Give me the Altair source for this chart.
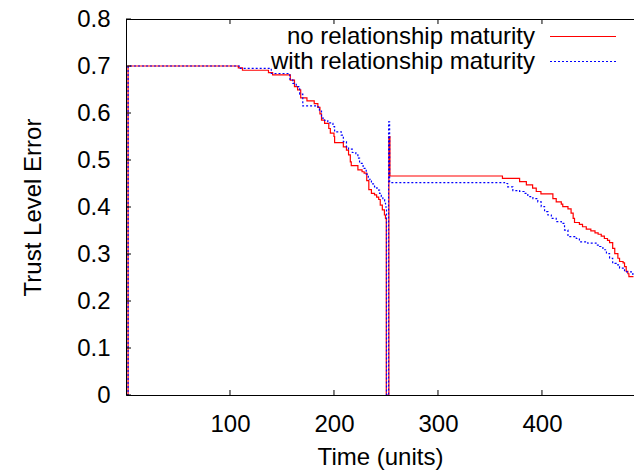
import altair as alt
import pandas as pd

# ---- data ----
series_names = ["no relationship maturity", "with relationship maturity"]

t_no = [1, 2, 108, 112, 137, 141, 158, 162, 165, 168, 174, 181, 184.5, 186.5, 188, 191, 195,
        196.5, 200, 200.6, 209, 212, 214, 215.7, 216.6, 223, 227, 229, 231.5, 233.5, 236, 239,
        241, 243, 244.5, 246.5, 248.5, 249.5, 250.3, 252.8, 253.8, 362, 378.5, 385, 391, 394.5,
        399, 410.5, 413.7, 418.6, 420, 425, 428, 430, 431.3, 436, 439, 442.6, 447, 451, 454,
        457, 460, 463, 465, 468, 470, 473, 474.6, 478, 479.4, 481, 482.6, 483.6, 488]
v_no = [0, 0.700, 0.696, 0.691, 0.686, 0.681, 0.670, 0.656, 0.649, 0.632, 0.626, 0.620, 0.612,
        0.598, 0.585, 0.578, 0.567, 0.557, 0.550, 0.537, 0.528, 0.521, 0.511, 0.496, 0.488,
        0.479, 0.475, 0.472, 0.456, 0.437, 0.429, 0.426, 0.421, 0.416, 0.404, 0.394, 0.383,
        0.376, 0.0, 0.55, 0.466, 0.461, 0.454, 0.447, 0.440, 0.433, 0.428, 0.418, 0.411, 0.406,
        0.401, 0.396, 0.387, 0.376, 0.367, 0.363, 0.358, 0.353, 0.349, 0.345, 0.342, 0.338,
        0.333, 0.329, 0.324, 0.312, 0.301, 0.291, 0.284, 0.281, 0.273, 0.263, 0.258, 0.252,
        0.252]

t_with = [1, 2, 109, 139.7, 157.5, 160.4, 163.7, 167, 170, 183, 186, 188, 191, 194, 197.4, 199,
          200.6, 207, 209, 212, 214, 217.6, 221, 223, 224.6, 228, 231, 233, 236, 239, 241.3,
          243.8, 245.5, 247, 248.7, 249.6, 250.5, 252.5, 253.5, 364, 367, 372, 378.5, 383,
          386.4, 391.3, 396, 399.3, 402.5, 405.7, 409, 413.7, 418.6, 421.7, 425, 433, 436, 444,
          452, 455.4, 458.6, 462, 465, 468, 471.4, 474.6, 479.4, 487.4, 488]
v_with = [0, 0.700, 0.695, 0.684, 0.672, 0.663, 0.656, 0.640, 0.615, 0.613, 0.606, 0.589, 0.584,
          0.579, 0.578, 0.571, 0.560, 0.553, 0.539, 0.528, 0.523, 0.516, 0.511, 0.504, 0.493,
          0.482, 0.470, 0.459, 0.449, 0.443, 0.436, 0.429, 0.422, 0.416, 0.408, 0.400, 0.0,
          0.581, 0.452, 0.450, 0.443, 0.435, 0.433, 0.429, 0.422, 0.418, 0.411, 0.401, 0.390,
          0.383, 0.376, 0.369, 0.365, 0.351, 0.337, 0.333, 0.326, 0.323, 0.319, 0.316, 0.309,
          0.301, 0.291, 0.280, 0.277, 0.270, 0.262, 0.255, 0.255]

x_ticks = [100, 200, 300, 400]
y_ticks = [0, 0.1, 0.2, 0.3, 0.4, 0.5, 0.6, 0.7, 0.8]

# ---- layout ----
W, H = 508, 376
X_MAX = 488.5
FONT = "Liberation Sans"
FS = 24

df_no = pd.DataFrame({"t": t_no, "v": v_no})
df_with = pd.DataFrame({"t": t_with, "v": v_with})

xscale = alt.Scale(domain=[0, X_MAX], nice=False, zero=False)
yscale = alt.Scale(domain=[0, 0.8], nice=False)

xaxis = alt.Axis(values=x_ticks, ticks=False, grid=False, domainColor="black", domainWidth=1,
                 labelFont=FONT, labelFontSize=FS, labelColor="black", labelPadding=17,
                 labelFlush=False, title="Time (units)", titleFont=FONT, titleFontSize=FS,
                 titleFontWeight="normal", titleColor="black", titlePadding=9)
yaxis = alt.Axis(values=y_ticks, format=".1~f", ticks=False, grid=False, domainColor="black",
                 domainWidth=1, labelFont=FONT, labelFontSize=FS, labelColor="black",
                 labelPadding=16, labelFlush=False, title="Trust Level Error", titleFont=FONT,
                 titleFontSize=FS, titleFontWeight="normal", titleColor="black", titlePadding=31)

line_no = alt.Chart(df_no).mark_line(
    interpolate="step-after", color="#ff0000", strokeWidth=1.2, clip=True
).encode(
    x=alt.X("t:Q", scale=xscale, axis=xaxis),
    y=alt.Y("v:Q", scale=yscale, axis=yaxis),
)

line_with = alt.Chart(df_with).mark_line(
    interpolate="step-after", color="#0000ff", strokeWidth=1.2, strokeDash=[2, 2], clip=True
).encode(
    x=alt.X("t:Q", scale=xscale),
    y=alt.Y("v:Q", scale=yscale),
)

# frame top line
top_line = alt.Chart(pd.DataFrame({"a": [0]})).mark_rule(color="black", strokeWidth=1).encode(
    x=alt.value(0), x2=alt.value(W), y=alt.value(0.5)
)

# inward ticks
xt = pd.DataFrame({"t": x_ticks})
yt = pd.DataFrame({"v": y_ticks})
tick_bottom = alt.Chart(xt).mark_rule(color="black").encode(
    x=alt.X("t:Q", scale=xscale), y=alt.value(H), y2=alt.value(H - 5)
)
tick_top = alt.Chart(xt).mark_rule(color="black").encode(
    x=alt.X("t:Q", scale=xscale), y=alt.value(0), y2=alt.value(5)
)
tick_left = alt.Chart(yt).mark_rule(color="black").encode(
    y=alt.Y("v:Q", scale=yscale), x=alt.value(0), x2=alt.value(5)
)

# key (inside top-right, like gnuplot)
key_text_no = alt.Chart(pd.DataFrame({"name": [series_names[0]]})).mark_text(
    align="right", baseline="middle", font=FONT, fontSize=FS, color="black"
).encode(text="name:N", x=alt.value(409), y=alt.value(18))
key_text_with = alt.Chart(pd.DataFrame({"name": [series_names[1]]})).mark_text(
    align="right", baseline="middle", font=FONT, fontSize=FS, color="black"
).encode(text="name:N", x=alt.value(409), y=alt.value(43))
key_line_no = alt.Chart(pd.DataFrame({"name": [series_names[0]]})).mark_rule(
    color="#ff0000", strokeWidth=1.2
).encode(x=alt.value(424), x2=alt.value(490), y=alt.value(17.5))
key_line_with = alt.Chart(pd.DataFrame({"name": [series_names[1]]})).mark_rule(
    color="#0000ff", strokeWidth=1.2, strokeDash=[2, 2]
).encode(x=alt.value(424), x2=alt.value(490), y=alt.value(42.5))

chart = alt.layer(
    line_no, line_with, top_line, tick_bottom, tick_top, tick_left,
    key_text_no, key_text_with, key_line_no, key_line_with
).properties(
    width=W, height=H,
    autosize=alt.AutoSizeParams(type="none"),
    padding={"left": 126, "top": 19, "right": 0, "bottom": 80},
    background="white",
).configure_view(strokeWidth=0)

chart.save("out.html", embed_options={"renderer": "svg", "actions": False})
